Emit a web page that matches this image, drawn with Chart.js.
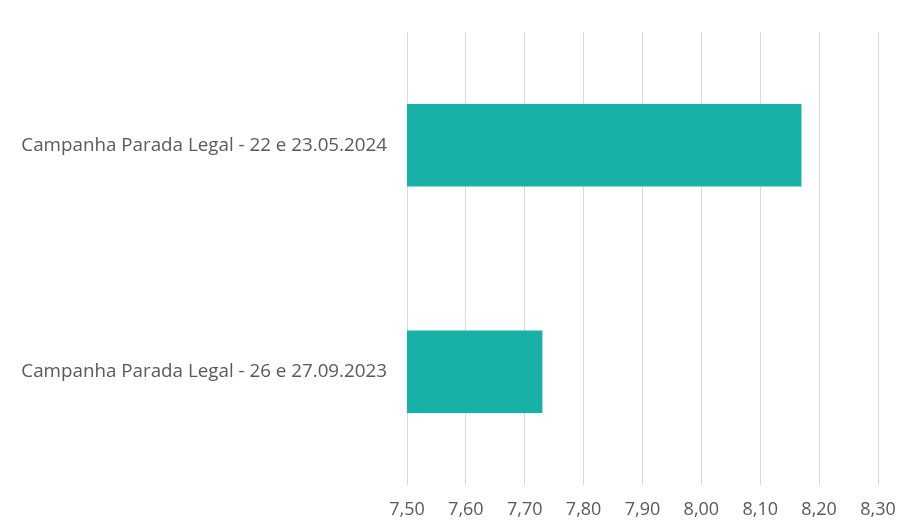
<!DOCTYPE html>
<html><head><meta charset="utf-8">
<script src="https://cdn.jsdelivr.net/npm/chart.js@4"></script>
<style>html,body{margin:0;padding:0;background:#fff;}#wrap{width:902px;height:523px;}</style>
</head><body><div id="wrap"><canvas id="c" width="902" height="523"></canvas></div>
<script>
const categories = ["Campanha Parada Legal - 22 e 23.05.2024", "Campanha Parada Legal - 26 e 27.09.2023"];
const values = [8.17, 7.73];
const xMin = 7.5, xMax = 8.3, xStep = 0.1;

new Chart(document.getElementById('c'), {
  type: 'bar',
  data: { labels: categories, datasets: [{ data: values, backgroundColor: '#17B1A8', borderWidth: 0, barPercentage: 0.73, categoryPercentage: 0.5 }] },
  options: {
    indexAxis: 'y', responsive: false, animation: false,
    layout: { padding: { top: 32, right: 24, left: 0, bottom: 0 } },
    plugins: { legend: { display: false }, tooltip: { enabled: false } },
    scales: {
      x: { min: xMin, max: xMax, border: { display: false },
        afterFit: s => { s.height = 38; s.paddingRight = 0; s.paddingLeft = 0; },
        grid: { color: '#d9d9d9', drawTicks: false },
        ticks: { stepSize: xStep, padding: 14, color: '#595959', font: { family: 'Open Sans', size: 18 },
          callback: v => Number(v).toFixed(2).replace('.', ',') } },
      y: { border: { display: false }, grid: { display: false, drawTicks: false },
        afterFit: s => { s.width = 407; },
        ticks: { padding: 20, color: '#595959', font: { family: 'Open Sans', size: 18.8 } } }
    }
  }
});
</script></body></html>
